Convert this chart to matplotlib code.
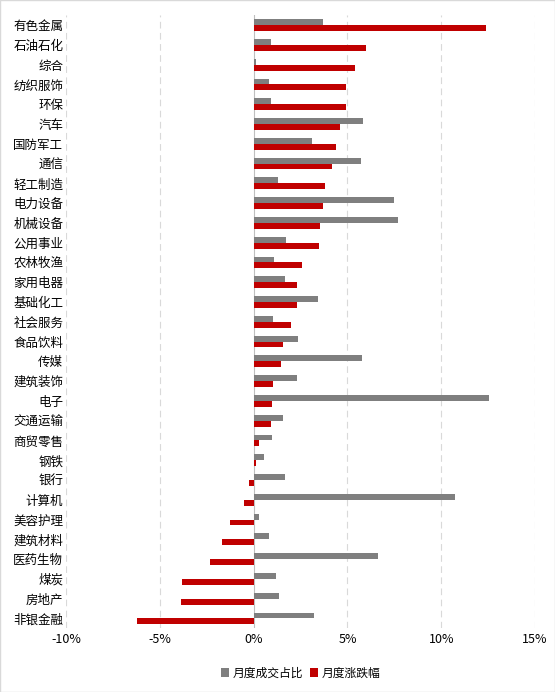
import matplotlib
matplotlib.use("Agg")
import matplotlib.pyplot as plt
import numpy as np
from matplotlib.ticker import FuncFormatter

plt.rcParams['font.family'] = ['Noto Sans CJK SC', 'DejaVu Sans']

categories = ["有色金属","石油石化","综合","纺织服饰","环保","汽车","国防军工","通信","轻工制造","电力设备",
              "机械设备","公用事业","农林牧渔","家用电器","基础化工","社会服务","食品饮料","传媒","建筑装饰","电子",
              "交通运输","商贸零售","钢铁","银行","计算机","美容护理","建筑材料","医药生物","煤炭","房地产","非银金融"]
share = [3.7,0.9,0.1,0.8,0.9,5.85,3.1,5.75,1.3,7.5,7.7,1.7,1.1,1.65,3.45,1.05,2.35,5.8,2.3,12.55,
         1.55,1.0,0.55,1.65,10.75,0.3,0.8,6.65,1.2,1.35,3.2]
change = [12.4,6.0,5.4,4.95,4.9,4.6,4.4,4.2,3.8,3.7,3.55,3.5,2.6,2.3,2.3,2.0,1.55,1.45,1.05,1.0,
          0.95,0.3,0.1,-0.25,-0.5,-1.25,-1.7,-2.3,-3.8,-3.85,-6.2]

fig = plt.figure(figsize=(5.55, 6.92), dpi=100)
ax = fig.add_axes([0.119, 0.092, 0.845, 0.886])
y = np.arange(len(categories))
h = 0.3
ax.barh(y - h/2, share, height=h, color='#7f7f7f', label='月度成交占比')
ax.barh(y + h/2, change, height=h, color='#c00000', label='月度涨跌幅')
ax.set_ylim(len(categories) - 0.5, -0.5)
ax.set_xlim(-10, 15)
ax.set_xticks([-10, -5, 0, 5, 10, 15])
ax.xaxis.set_major_formatter(FuncFormatter(lambda v, p: f"{int(v)}%"))
ax.set_yticks(y)
ax.set_yticklabels(categories, fontsize=9)
ax.tick_params(axis='x', labelsize=9, length=0)
ax.tick_params(axis='y', length=0, pad=2)
for v in [-10, -5, 5, 10, 15]:
    ax.axvline(v, color='#d9d9d9', lw=0.8, ls=(0, (6, 4)), zorder=0)
ax.axvline(0, color='#bfbfbf', lw=0.8, zorder=0)
for s in ax.spines.values():
    s.set_visible(False)
ax.legend(loc='upper center', bbox_to_anchor=(0.5, -0.045), ncol=2, frameon=False,
          fontsize=8.5, handlelength=0.7, handleheight=0.7, columnspacing=0.6, handletextpad=0.3)
fig.patches.append(plt.Rectangle((0, 0), 1, 1, transform=fig.transFigure, fill=False,
                                 edgecolor='#d9d9d9', lw=1))
fig.savefig("out.png", dpi=100)
